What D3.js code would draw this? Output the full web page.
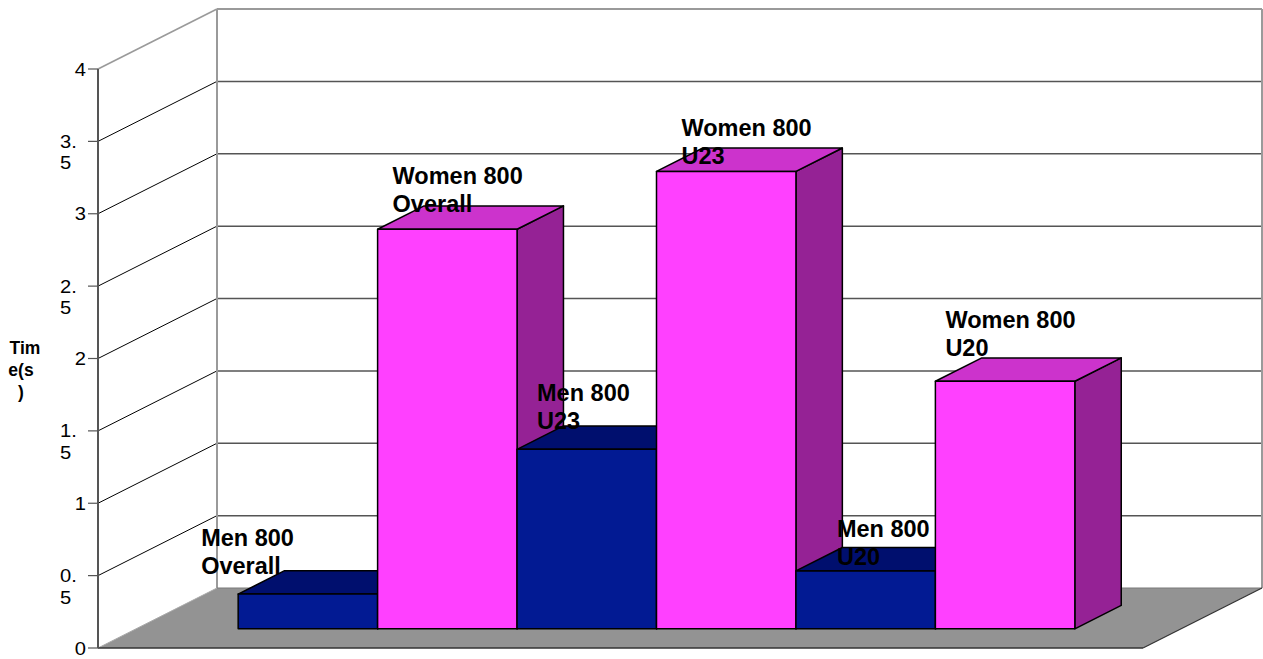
<!DOCTYPE html>
<html>
<head>
<meta charset="utf-8">
<script src="https://cdn.jsdelivr.net/npm/d3@7"></script>
<style>
  html, body { margin: 0; padding: 0; background: #ffffff; }
  svg { display: block; }
  text { font-family: "Liberation Sans", Arial, sans-serif; }
</style>
</head>
<body>
<svg id="chart" width="1263" height="659"></svg>
<script>
// ---------------- data ----------------
const groups = ["Overall", "U23", "U20"];
const seriesNames = ["Men 800", "Women 800"];
const menValues = [0.24, 1.24, 0.40];
const womenValues = [2.76, 3.16, 1.71];
const tickValues = [0, 0.5, 1, 1.5, 2, 2.5, 3, 3.5, 4];
const tickLabels = ["0", "0.5", "1", "1.5", "2", "2.5", "3", "3.5", "4"];
const axisTitle = "Time(s)";

// ---------------- layout ----------------
const W = 1263, H = 659;
const X0 = 98, X1 = 1143;          // front floor edge
const Y0 = 648, Y4 = 69;           // front axis 0 and 4
const DX = 119, DY = -60;          // full depth projection
const F0 = 0.32, F1 = 0.71;        // bar front / back depth fractions
// label nudges (dx from bar front-left, dy from bar back-top) for each bar
const labelNudge = [[-37, 3], [15, 6], [20, 3], [25, 16], [41, 17], [10, -2]];

const colors = {
  "Men 800":   { front: "#021A93", top: "#000F6E", side: "#000C5A" },
  "Women 800": { front: "#FF40FF", top: "#CC33CC", side: "#952295" }
};

// build bars table
const bars = [];
groups.forEach((g, i) => {
  bars.push({ series: seriesNames[0], group: g, value: menValues[i] });
  bars.push({ series: seriesNames[1], group: g, value: womenValues[i] });
});
bars.forEach((b, i) => b.key = b.series + " " + b.group);

const svg = d3.select("#chart");

const y = d3.scaleLinear().domain([0, 4]).range([Y0, Y4]);
const x = d3.scaleBand().domain(bars.map(b => b.key)).range([X0, X1])
  .paddingInner(0).paddingOuter(0.747).align(0.49);

const P = (px, py, f) => [px + DX * f, py + DY * f];
const pts = arr => arr.map(p => p.join(",")).join(" ");

// back wall
svg.append("polygon")
  .attr("points", pts([P(X0, Y4, 1), P(X1, Y4, 1), P(X1, Y0, 1), P(X0, Y0, 1)]))
  .attr("fill", "#ffffff");

// back wall gridlines
tickValues.filter(v => v > 0 && v < 4).forEach(v => {
  const a = P(X0, y(v), 1), b = P(X1, y(v), 1);
  svg.append("line").attr("x1", a[0]).attr("y1", a[1]).attr("x2", b[0]).attr("y2", b[1])
    .attr("stroke", "#555555").attr("stroke-width", 1.5);
});
// left wall gridlines
tickValues.filter(v => v > 0 && v < 4).forEach(v => {
  const a = P(X0, y(v), 0), b = P(X0, y(v), 1);
  svg.append("line").attr("x1", a[0]).attr("y1", a[1]).attr("x2", b[0]).attr("y2", b[1])
    .attr("stroke", "#000000").attr("stroke-width", 1);
});

// wall edges (grey)
const edge = (a, b, c, w) => svg.append("line").attr("x1", a[0]).attr("y1", a[1])
  .attr("x2", b[0]).attr("y2", b[1]).attr("stroke", c).attr("stroke-width", w);
edge(P(X0, Y4, 0), P(X0, Y4, 1), "#9a9a9a", 1.6);
edge(P(X0, Y4, 1), P(X1, Y4, 1), "#9a9a9a", 2);
edge(P(X0, Y4, 1), P(X0, Y0, 1), "#9a9a9a", 2);
edge(P(X1, Y4, 1), P(X1, Y0, 1), "#9a9a9a", 2);

// floor
svg.append("polygon")
  .attr("points", pts([P(X0, Y0, 0), P(X0, Y0, 1), P(X1, Y0, 1), P(X1, Y0, 0)]))
  .attr("fill", "#939393");
edge(P(X0, Y0, 0), P(X0, Y0, 1), "#aaaaaa", 1);
edge(P(X0, Y0, 1), P(X1, Y0, 1), "#7a7a7a", 1.2);
edge(P(X0, Y0, 0), P(X1, Y0, 0), "#333333", 1.5);
edge(P(X1, Y0, 0), P(X1, Y0, 1), "#333333", 1.2);

// front axis
edge([X0, Y4], [X0, Y0], "#555555", 2);
tickValues.forEach(v => edge([X0 - 10, y(v)], [X0, y(v)], "#555555", 1.2));

// tick labels (slightly wide glyphs as in the reference)
const tickG = svg.append("g").attr("font-size", 18).attr("fill", "#000");
tickValues.forEach((v, i) => {
  const lab = tickLabels[i];
  if (lab.includes(".")) {
    const parts = [lab.slice(0, lab.indexOf(".") + 1), lab.slice(lab.indexOf(".") + 1)];
    const t = tickG.append("text").attr("transform", `translate(60,${y(v) + 6.5}) scale(1.12,1)`)
      .attr("text-anchor", "start");
    t.append("tspan").attr("x", 0).attr("y", 0).text(parts[0]);
    t.append("tspan").attr("x", 0).attr("dy", 21.5).text(parts[1]);
  } else {
    tickG.append("text").attr("transform", `translate(86,${y(v) + 6.5}) scale(1.12,1)`)
      .attr("text-anchor", "end").text(lab);
  }
});

// axis title, wrapped
const titleLines = [axisTitle.slice(0, 3), axisTitle.slice(3, 6), axisTitle.slice(6)];
const tt = svg.append("text").attr("font-size", 17.5).attr("font-weight", "bold")
  .attr("text-anchor", "middle").attr("x", 24).attr("y", 354);
titleLines.forEach((l, i) => tt.append("tspan").attr("x", i === 0 ? 25 : 21).attr("dy", i === 0 ? 0 : 22).text(l));

// bars, drawn left to right
bars.forEach(b => {
  const c = colors[b.series];
  const xl = x(b.key), xr = x(b.key) + x.bandwidth();
  const yt = y(b.value), yb = y(0);
  const g = svg.append("g").attr("stroke", "#000").attr("stroke-width", 1.5).attr("stroke-linejoin", "round");
  g.append("polygon").attr("points", pts([P(xr, yt, F0), P(xr, yt, F1), P(xr, yb, F1), P(xr, yb, F0)]))
    .attr("fill", c.side);
  g.append("polygon").attr("points", pts([P(xl, yt, F0), P(xl, yt, F1), P(xr, yt, F1), P(xr, yt, F0)]))
    .attr("fill", c.top);
  g.append("polygon").attr("points", pts([P(xl, yt, F0), P(xr, yt, F0), P(xr, yb, F0), P(xl, yb, F0)]))
    .attr("fill", c.front);
});

// labels
const labG = svg.append("g").attr("font-size", 23.5).attr("font-weight", "bold").attr("fill", "#000");
bars.forEach((b, i) => {
  const fl = P(x(b.key), y(b.value), F0);
  const bt = P(x(b.key), y(b.value), F1);
  const lx = fl[0] + labelNudge[i][0];
  const ly = bt[1] + labelNudge[i][1];
  const t = labG.append("text").attr("x", lx).attr("y", ly - 27.5);
  t.append("tspan").attr("x", lx).text(b.series);
  t.append("tspan").attr("x", lx).attr("dy", 27.5).text(b.group);
});
</script>
</body>
</html>
